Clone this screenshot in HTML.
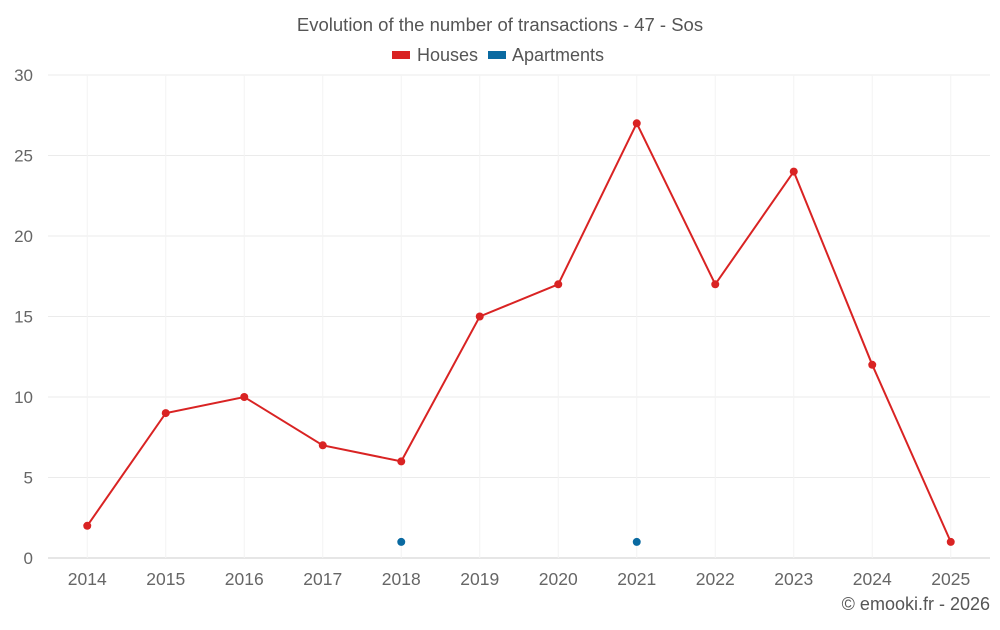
<!DOCTYPE html>
<html><head><meta charset="utf-8"><style>
html,body{margin:0;padding:0;background:#fff;}
svg text{font-family:"Liberation Sans",sans-serif;}
</style></head><body>
<svg id="chart" width="1000" height="625" xmlns="http://www.w3.org/2000/svg">
<text x="500" y="31" text-anchor="middle" font-size="18.5" fill="#555">Evolution of the number of transactions - 47 - Sos</text>
<g><rect x="392" y="51" width="18" height="8" fill="#d92323"/><text x="417" y="61" font-size="18" fill="#555">Houses</text></g>
<g><rect x="488" y="51" width="18" height="8" fill="#0a6aa1"/><text x="512" y="61" font-size="18" fill="#555">Apartments</text></g>
<g id="grid"></g><g id="axes"></g><g id="series"></g>
<text x="990" y="610" text-anchor="end" font-size="18" fill="#555">© emooki.fr - 2026</text>
</svg>
<script>
const categories=["2014","2015","2016","2017","2018","2019","2020","2021","2022","2023","2024","2025"];
const houses=[2,9,10,7,6,15,17,27,17,24,12,1];
const apartments=[null,null,null,null,1,null,null,1,null,null,null,null];
const yTicks=[0,5,10,15,20,25,30];
const L=48,R=990,T=75,B=558,yMax=30;
const NS="http://www.w3.org/2000/svg";
const bw=(R-L)/categories.length;
const xS=i=>L+bw*(i+0.5);
const yS=v=>B-(v/yMax)*(B-T);
function mk(tag,attrs,parent){const e=document.createElementNS(NS,tag);for(const k in attrs)e.setAttribute(k,attrs[k]);parent.appendChild(e);return e;}
const grid=document.getElementById('grid'),axes=document.getElementById('axes'),series=document.getElementById('series');
yTicks.forEach(t=>{
 const l=mk('line',{x1:L,x2:R,y1:yS(t),y2:yS(t),stroke:t===0?'#ccc':'#ebebeb','stroke-width':1},grid);
 
 
 const tx=mk('text',{x:33,y:yS(t)+6,'text-anchor':'end','font-size':17,fill:'#666'},axes);
 tx.textContent=t;
 
 
});
categories.forEach((c,i)=>{
 const l=mk('line',{x1:xS(i),x2:xS(i),y1:T,y2:B,stroke:'#f3f3f3','stroke-width':1},grid);
 
 
 const tx=mk('text',{x:xS(i),y:585,'text-anchor':'middle','font-size':17.5,fill:'#666'},axes);
 tx.textContent=c;
 
 
});
let d='';houses.forEach((v,i)=>{d+=(i?'L':'M')+xS(i)+','+yS(v);});
const p=mk('path',{d:d,fill:'none',stroke:'#d92323','stroke-width':2},series);


houses.forEach((v,i)=>{
 const c=mk('circle',{cx:xS(i),cy:yS(v),r:4,fill:'#d92323'},series);
 
 
});
apartments.forEach((v,i)=>{
 if(v===null)return;
 const c=mk('circle',{cx:xS(i),cy:yS(v),r:4,fill:'#0a6aa1'},series);
 
 
});
</script>
</body></html>
